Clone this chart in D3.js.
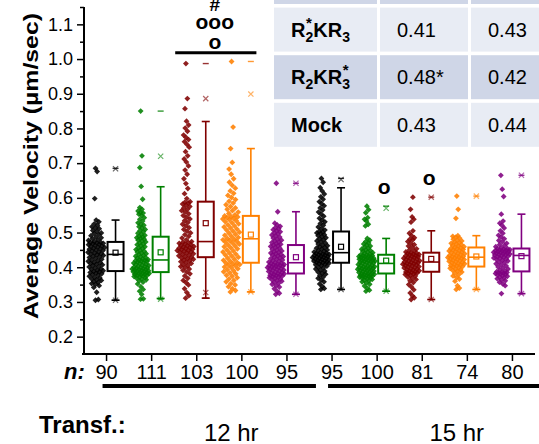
<!DOCTYPE html>
<html>
<head>
<meta charset="utf-8">
<script src="https://cdn.jsdelivr.net/npm/d3@7"></script>
<style>
  html, body { margin: 0; padding: 0; background: #fff; }
  svg { display: block; font-family: "Liberation Sans", Arial, sans-serif; }
</style>
</head>
<body>
<svg id="chart" width="539" height="444"></svg>
<script>
// ---- categories: five constructs per transfection time ----
const categories = ["12h-1", "12h-2", "12h-3", "12h-4", "12h-5", "15h-1", "15h-2", "15h-3", "15h-4", "15h-5"];
const nCounts = [90, 111, 103, 100, 95, 95, 100, 81, 74, 80];
const seriesColors = ["#000000", "#008000", "#800000", "#ff8000", "#800080"];
const timeLabels = ["12 hr", "15 hr"];
const timeSpans = [[0, 4], [5, 9]];
const yTicks = [0.2, 0.3, 0.4, 0.5, 0.6, 0.7, 0.8, 0.9, 1.0, 1.1];
const yMinorTicks = [0.25, 0.35, 0.45, 0.55, 0.65, 0.75, 0.85, 0.95, 1.05, 1.15];

// ---- individual velocities (µm/sec), sorted per group ----
const vel12_1 = [0.305,0.307,0.328,0.342,0.347,0.351,0.353,0.356,0.359,0.362,0.364,0.366,0.369,0.371,0.374,0.377,0.379,0.381,0.383,0.385,0.387,0.388,
  0.390,0.391,0.394,0.395,0.398,0.401,0.402,0.405,0.407,0.409,0.411,0.413,0.414,0.417,0.419,0.421,0.423,0.426,0.428,0.430,0.432,0.434,0.436,
  0.438,0.439,0.441,0.443,0.444,0.447,0.448,0.450,0.452,0.453,0.455,0.457,0.458,0.460,0.461,0.463,0.465,0.466,0.468,0.469,0.470,0.471,0.472,
  0.474,0.477,0.479,0.482,0.485,0.487,0.491,0.494,0.497,0.499,0.503,0.506,0.511,0.513,0.517,0.521,0.525,0.531,0.536,0.598,0.676,0.685];
const vel12_2 = [0.308,0.309,0.322,0.331,0.336,0.344,0.352,0.357,0.361,0.364,0.366,0.368,0.370,0.372,0.373,0.375,0.376,0.377,0.378,0.379,0.380,0.381,0.382,0.383,0.384,0.385,0.386,
  0.387,0.388,0.389,0.390,0.391,0.392,0.393,0.394,0.395,0.396,0.397,0.398,0.399,0.400,0.402,0.403,0.405,0.406,0.408,0.409,0.411,0.412,0.414,0.415,0.417,0.418,0.419,0.420,
  0.421,
  0.422,0.424,0.426,0.428,0.430,0.432,0.434,0.437,0.439,0.441,0.444,0.446,0.449,0.451,0.454,0.456,0.459,0.462,0.465,0.467,0.470,0.473,0.476,0.478,0.481,0.483,0.485,0.487,
  0.489,0.492,0.495,0.498,0.502,0.506,0.509,0.513,0.517,0.521,0.524,0.528,0.533,0.538,0.543,0.549,0.553,0.556,0.558,0.562,0.567,0.572,0.596,0.633,0.687,0.721,0.850];
const vel12_3 = [0.311,0.318,0.327,0.338,0.349,0.356,0.362,0.368,0.375,0.381,0.386,0.391,0.395,0.399,0.402,0.405,0.408,0.411,0.414,0.416,0.419,0.421,0.423,0.425,0.427,
  0.429,
  0.431,0.433,0.435,0.437,0.439,0.441,0.443,0.444,0.446,0.448,0.449,0.451,0.452,0.454,0.455,0.457,0.458,0.460,0.462,0.463,0.465,0.467,0.469,0.471,0.472,
  0.474,
  0.479,0.484,0.489,0.494,0.499,0.504,0.509,0.514,0.519,0.524,0.529,0.534,0.539,0.544,0.549,0.554,0.559,0.563,0.567,0.571,0.575,0.579,0.582,0.585,0.587,
  0.589,
  0.598,0.612,0.627,0.641,0.655,0.668,0.680,0.692,0.703,0.712,0.721,0.733,0.746,0.754,0.762,0.768,0.774,0.781,0.792,0.801,0.810,0.821,0.857,0.886,0.987];
const vel12_4 = [0.329,0.333,0.338,0.344,0.349,0.353,0.358,0.362,0.366,0.370,0.374,0.377,0.381,0.384,0.387,0.390,0.393,0.396,0.399,0.401,0.404,0.406,0.408,0.410,0.412,
  0.414,0.417,0.420,0.423,0.426,0.429,0.432,0.435,0.438,0.441,0.444,0.447,0.450,0.453,0.456,0.459,0.462,0.464,0.467,0.470,0.472,0.475,0.477,0.479,0.481,
  0.483,0.486,0.489,0.492,0.495,0.498,0.501,0.504,0.507,0.510,0.513,0.516,0.519,0.522,0.525,0.528,0.531,0.534,0.537,0.539,0.541,0.543,0.545,0.546,0.548,
  0.551,0.555,0.559,0.563,0.567,0.571,0.575,0.580,0.585,0.590,0.595,0.601,0.607,0.613,0.620,0.628,0.636,0.645,0.655,0.668,0.683,0.702,0.742,0.804,0.993];
const vel12_5 = [0.322,0.325,0.331,0.338,0.343,0.347,0.351,0.354,0.357,0.360,0.362,0.364,0.366,0.368,0.370,0.372,0.373,0.375,0.376,0.377,0.378,0.379,0.381,
  0.382,
  0.383,0.385,0.386,0.388,0.389,0.391,0.392,0.394,0.395,0.396,0.398,0.399,0.400,0.401,0.403,0.404,0.405,0.406,0.407,0.408,0.409,0.411,0.412,
  0.413,
  0.415,0.417,0.419,0.421,0.423,0.425,0.427,0.429,0.431,0.433,0.435,0.437,0.439,0.441,0.443,0.445,0.447,0.450,0.452,0.455,0.457,0.460,0.462,
  0.464,
  0.466,0.468,0.471,0.473,0.476,0.478,0.481,0.484,0.487,0.490,0.493,0.496,0.499,0.502,0.505,0.508,0.511,0.514,0.518,0.522,0.527,0.560,0.642];
const vel15_1 = [0.336,0.339,0.345,0.352,0.358,0.363,0.368,0.372,0.376,0.380,0.383,0.386,0.389,0.392,0.395,0.398,0.400,0.403,0.405,0.407,0.409,0.410,0.412,
  0.413,
  0.414,0.415,0.417,0.418,0.419,0.420,0.422,0.423,0.424,0.425,0.426,0.428,0.429,0.430,0.431,0.432,0.434,0.435,0.436,0.437,0.438,0.440,0.441,
  0.442,
  0.444,0.446,0.448,0.450,0.452,0.455,0.457,0.459,0.462,0.464,0.467,0.470,0.473,0.476,0.479,0.482,0.485,0.488,0.491,0.494,0.497,0.499,0.501,
  0.503,
  0.507,0.511,0.516,0.521,0.526,0.531,0.536,0.541,0.547,0.553,0.559,0.565,0.571,0.577,0.583,0.589,0.596,0.603,0.611,0.620,0.629,0.645,0.656];
const vel15_2 = [0.331,0.334,0.340,0.346,0.351,0.355,0.358,0.361,0.363,0.365,0.367,0.368,0.370,0.371,0.372,0.373,0.374,0.375,0.376,0.377,0.378,0.379,0.380,0.381,0.381,
  0.383,0.384,0.385,0.386,0.388,0.389,0.390,0.391,0.392,0.393,0.394,0.395,0.396,0.397,0.398,0.399,0.400,0.401,0.402,0.403,0.405,0.406,0.407,0.408,0.410,
  0.412,0.413,0.414,0.415,0.416,0.417,0.418,0.419,0.420,0.421,0.422,0.423,0.424,0.425,0.426,0.427,0.428,0.429,0.430,0.431,0.432,0.433,0.434,0.435,0.436,
  0.438,0.440,0.442,0.444,0.446,0.448,0.450,0.452,0.455,0.458,0.461,0.464,0.467,0.470,0.474,0.478,0.483,0.519,0.524,0.533,0.538,0.543,0.557,0.566,0.576];
const vel15_3 = [0.307,0.312,0.318,0.326,0.335,0.343,0.350,0.356,0.361,0.365,0.369,0.372,0.375,0.377,0.379,0.381,0.382,0.384,0.385,0.386,
  0.387,
  0.389,0.390,0.392,0.393,0.395,0.396,0.398,0.399,0.401,0.402,0.404,0.405,0.407,0.408,0.409,0.410,0.411,0.413,0.414,
  0.415,
  0.416,0.418,0.419,0.421,0.422,0.424,0.425,0.426,0.428,0.429,0.430,0.432,0.433,0.434,0.436,0.437,0.438,0.440,0.441,
  0.442,
  0.444,0.447,0.450,0.453,0.457,0.461,0.465,0.469,0.474,0.479,0.481,0.485,0.491,0.498,0.505,0.530,0.538,0.545,0.567,0.602];
const vel15_4 = [0.336,0.340,0.347,0.360,0.366,0.371,0.375,0.379,0.383,0.386,0.389,0.391,0.393,0.395,0.397,0.399,0.401,
  0.402,
  0.404,0.405,0.407,0.408,0.410,0.411,0.413,0.414,0.416,0.417,0.419,0.420,0.422,0.423,0.425,0.426,0.427,0.428,
  0.429,0.430,
  0.431,0.433,0.434,0.436,0.437,0.439,0.440,0.442,0.444,0.445,0.447,0.448,0.450,0.451,0.453,0.454,0.456,
  0.457,
  0.459,0.461,0.463,0.465,0.467,0.469,0.471,0.473,0.476,0.478,0.481,0.484,0.487,0.489,0.491,0.541,0.567,0.605];
const vel15_5 = [0.324,0.347,0.352,0.357,0.361,0.364,0.367,0.370,0.372,0.374,0.376,0.378,0.380,0.381,0.382,0.383,0.384,0.385,0.386,0.387,
  0.389,0.392,0.395,0.398,0.401,0.404,0.407,0.410,0.413,0.415,0.418,0.420,0.422,0.424,0.426,0.427,0.429,0.430,0.432,0.433,
  0.435,0.436,0.437,0.438,0.439,0.440,0.441,0.442,0.443,0.444,0.445,0.446,0.447,0.448,0.449,0.450,0.451,0.452,0.453,0.454,
  0.456,0.459,0.462,0.465,0.469,0.473,0.477,0.482,0.487,0.492,0.498,0.505,0.513,0.521,0.527,0.533,0.553,0.604,0.625,0.665];
const velocities = [vel12_1, vel12_2, vel12_3, vel12_4, vel12_5, vel15_1, vel15_2, vel15_3, vel15_4, vel15_5];

// ---- box statistics per group ----
const q1 =        [0.389, 0.386, 0.429, 0.413, 0.382, 0.413, 0.382, 0.387, 0.402, 0.388];
const medians =   [0.437, 0.421, 0.474, 0.482, 0.413, 0.442, 0.411, 0.415, 0.429, 0.434];
const q3 =        [0.473, 0.488, 0.589, 0.548, 0.464, 0.503, 0.436, 0.442, 0.457, 0.454];
const means =     [0.442, 0.443, 0.527, 0.494, 0.429, 0.459, 0.419, 0.424, 0.431, 0.432];
const whiskerLo = [0.305, 0.310, 0.311, 0.329, 0.322, 0.336, 0.331, 0.307, 0.336, 0.324];
const whiskerHi = [0.536, 0.632, 0.820, 0.742, 0.560, 0.629, 0.483, 0.505, 0.491, 0.553];
const pct1 =      [0.305, 0.308, 0.327, 0.329, 0.322, 0.336, 0.331, 0.307, 0.336, 0.324];
const pct99 =     [0.684, 0.720, 0.886, 0.899, 0.642, 0.653, 0.570, 0.602, 0.605, 0.665];
const minima =    [0.305, 0.308, 0.311, 0.329, 0.322, 0.336, 0.331, 0.307, 0.336, 0.324];
const maxima =    [0.685, 0.850, 0.987, 0.993, 0.642, 0.656, 0.576, 0.602, 0.605, 0.665];

// ---- significance marks ----
const singleMarks = [6, 7];          // groups carrying a single "o"
const bracketGroups = [2, 3];        // groups joined by the bracket
const bracketMarks = ["#", "ooo", "o"];

// ---- mean-velocity table ----
const tableLabels = [
  [],
  [{ t: "R" }, { sub: "2", sup: "*" }, { t: "KR" }, { sub: "3" }],
  [{ t: "R" }, { sub: "2" }, { t: "KR" }, { sub: "3", sup: "*" }],
  [{ t: "Mock" }]
];
const tableMean12 = ["", "0.41", "0.48*", "0.43"];
const tableMean15 = ["", "0.43", "0.42", "0.44"];

// ================= drawing =================
const svg = d3.select("#chart");
const ink = "#000";

const y = d3.scaleLinear().domain([0.15, 1.15]).range([354, 7]);
const x = d3.scaleBand().domain(categories).range([84, 535]);
const cx = i => x(categories[i]) + x.bandwidth() / 2;
const color = i => seriesColors[i % seriesColors.length];

// table of mean velocities (top right)
const colX = [274, 380, 471], colW = [103, 88, 92];
const rowTop0 = -40, rowStep = 47.6, rowH = 44;
const rowFill = ["#cfd6e7", "#e8ecf4", "#cfd6e7", "#e8ecf4"];
const tbl = svg.append("g");
tableLabels.forEach((parts, r) => {
  const top = rowTop0 + r * rowStep;
  colX.forEach((cxl, c) => {
    tbl.append("rect").attr("x", cxl).attr("y", top).attr("width", colW[c]).attr("height", rowH)
      .attr("fill", rowFill[r]);
  });
  const base = top + rowH / 2 + 7;
  // rich label with sub/superscripts
  let px = colX[0] + 17;
  parts.forEach(p => {
    if (p.t) {
      const t = tbl.append("text").attr("x", px).attr("y", base).attr("font-size", 20)
        .attr("font-weight", "bold").attr("fill", ink).text(p.t);
      px += t.node().getComputedTextLength();
    } else {
      let w = 0;
      if (p.sub) {
        const t = tbl.append("text").attr("x", px).attr("y", base + 5).attr("font-size", 14)
          .attr("font-weight", "bold").attr("fill", ink).text(p.sub);
        w = Math.max(w, t.node().getComputedTextLength());
      }
      if (p.sup) {
        const t = tbl.append("text").attr("x", px + 0.5).attr("y", base - 9).attr("font-size", 15)
          .attr("font-weight", "bold").attr("fill", ink).text(p.sup);
        w = Math.max(w, t.node().getComputedTextLength());
      }
      px += w;
    }
  });
  tbl.append("text").attr("x", colX[1] + 17).attr("y", base).attr("font-size", 20)
    .attr("fill", ink).text(tableMean12[r]);
  tbl.append("text").attr("x", colX[2] + 17).attr("y", base).attr("font-size", 20)
    .attr("fill", ink).text(tableMean15[r]);
});

// y axis
const yAxisG = svg.append("g").attr("transform", `translate(${x.range()[0]},0)`)
  .call(d3.axisLeft(y).tickValues(yTicks).tickSize(7).tickSizeOuter(0).tickPadding(4)
    .tickFormat(d3.format(".1f")));
yAxisG.select(".domain").remove();
yAxisG.selectAll(".tick line").attr("stroke", ink).attr("stroke-width", 1.5);
yAxisG.selectAll(".tick text").attr("font-size", 18).attr("fill", ink)
  .attr("font-family", "'Liberation Sans', Arial, sans-serif");
const yMinorG = svg.append("g").attr("transform", `translate(${x.range()[0]},0)`)
  .call(d3.axisLeft(y).tickValues(yMinorTicks).tickSize(4).tickFormat(""));
yMinorG.select(".domain").remove();
yMinorG.selectAll(".tick line").attr("stroke", ink).attr("stroke-width", 1.5);
svg.append("line").attr("x1", x.range()[0]).attr("x2", x.range()[0])
  .attr("y1", y.range()[1]).attr("y2", y.range()[0] + 1)
  .attr("stroke", ink).attr("stroke-width", 2);

// x axis with n counts as labels
const xAxisG = svg.append("g").attr("transform", `translate(0,${y.range()[0]})`)
  .call(d3.axisBottom(x).tickSize(7).tickSizeOuter(0).tickPadding(4)
    .tickFormat((d, i) => nCounts[i]));
xAxisG.select(".domain").remove();
xAxisG.selectAll(".tick line").attr("stroke", ink).attr("stroke-width", 1.5);
xAxisG.selectAll(".tick text").attr("font-size", 20).attr("fill", ink)
  .attr("font-family", "'Liberation Sans', Arial, sans-serif");
svg.append("line").attr("x1", x.range()[0] - 2).attr("x2", x.range()[1])
  .attr("y1", y.range()[0]).attr("y2", y.range()[0])
  .attr("stroke", ink).attr("stroke-width", 2);

svg.append("text").attr("x", 64).attr("y", 379).attr("font-size", 22)
  .attr("font-weight", "bold").attr("font-style", "italic").attr("fill", ink).text("n:");

// y axis title
svg.append("text").attr("transform", "translate(38,166) rotate(-90)")
  .attr("text-anchor", "middle").attr("font-size", 20).attr("font-weight", "bold")
  .attr("textLength", 306).attr("lengthAdjust", "spacingAndGlyphs")
  .attr("fill", ink).text("Average Velocity (µm/sec)");

// transfection-time brackets
timeSpans.forEach((s, k) => {
  const x1 = cx(s[0]) - 4, x2 = cx(s[1]) + 29;
  svg.append("line").attr("x1", x1).attr("x2", x2).attr("y1", 386).attr("y2", 386)
    .attr("stroke", ink).attr("stroke-width", 4);
  svg.append("text").attr("x", (x1 + x2) / 2 + 22).attr("y", 441).attr("text-anchor", "middle")
    .attr("font-size", 24).attr("fill", ink).text(timeLabels[k]);
});
svg.append("text").attr("x", 39).attr("y", 433).attr("font-size", 24).attr("font-weight", "bold")
  .attr("fill", ink).text("Transf.:");

// ---- jittered points, spread by local density ----
const dotOffset = -10.5, boxOffset = 9, boxW = 16;
const diamond = d3.symbol(d3.symbolSquare, 17)();
function kde(vals, v, bw) {
  let s = 0;
  for (const u of vals) { const z = (v - u) / bw; s += Math.exp(-0.5 * z * z); }
  return s;
}
velocities.forEach((vals, i) => {
  const dens = vals.map(v => kde(vals, v, 0.016));
  const dmax = d3.max(dens);
  const g = svg.append("g");
  g.selectAll("path").data(vals).join("path")
    .attr("d", diamond)
    .attr("transform", (v, j) => {
      const half = 1.5 + 7.5 * dens[j] / dmax;
      const u = ((j * 0.6180339887 + 0.37) % 1) - 0.5;
      return `translate(${cx(i) + dotOffset + 2 * u * half},${y(v)}) rotate(45)`;
    })
    .attr("fill", color(i)).attr("fill-opacity", 0.88);
});

// ---- boxes ----
categories.forEach((c, i) => {
  const g = svg.append("g");
  const bx = cx(i) + boxOffset, col = color(i);
  // whiskers with caps
  g.append("line").attr("x1", bx).attr("x2", bx).attr("y1", y(q3[i])).attr("y2", y(whiskerHi[i]))
    .attr("stroke", col).attr("stroke-width", 1.6);
  g.append("line").attr("x1", bx).attr("x2", bx).attr("y1", y(q1[i])).attr("y2", y(whiskerLo[i]))
    .attr("stroke", col).attr("stroke-width", 1.6);
  [whiskerHi[i], whiskerLo[i]].forEach(v => {
    g.append("line").attr("x1", bx - 4).attr("x2", bx + 4).attr("y1", y(v)).attr("y2", y(v))
      .attr("stroke", col).attr("stroke-width", 1.6);
  });
  g.append("rect").attr("x", bx - boxW / 2).attr("y", y(q3[i])).attr("width", boxW)
    .attr("height", y(q1[i]) - y(q3[i])).attr("fill", "#fff").attr("stroke", col).attr("stroke-width", 2);
  g.append("line").attr("x1", bx - boxW / 2).attr("x2", bx + boxW / 2)
    .attr("y1", y(medians[i])).attr("y2", y(medians[i])).attr("stroke", col).attr("stroke-width", 1.6);
  g.append("rect").attr("x", bx - 2.5).attr("y", y(means[i]) - 2.5).attr("width", 5).attr("height", 5)
    .attr("fill", "none").attr("stroke", col).attr("stroke-width", 1.2);
  // 1% / 99% crosses
  [pct1[i], pct99[i]].forEach(v => {
    const p = d3.path(), r = 2.6, yy = y(v);
    p.moveTo(bx - r, yy - r); p.lineTo(bx + r, yy + r);
    p.moveTo(bx + r, yy - r); p.lineTo(bx - r, yy + r);
    g.append("path").attr("d", p.toString()).attr("stroke", col).attr("stroke-width", 1.2)
      .attr("fill", "none").attr("stroke-opacity", 0.6);
  });
  // min / max dashes
  [minima[i], maxima[i]].forEach(v => {
    g.append("line").attr("x1", bx - 3).attr("x2", bx + 3).attr("y1", y(v)).attr("y2", y(v))
      .attr("stroke", col).attr("stroke-width", 1.4).attr("stroke-opacity", 0.8);
  });
});

// ---- significance annotations ----
singleMarks.forEach(i => {
  svg.append("text").attr("x", cx(i) + 7).attr("y", y(maxima[i]) - 12).attr("text-anchor", "middle")
    .attr("font-size", 21).attr("font-weight", "bold").attr("fill", ink).text("o");
});
{
  const bx1 = x(categories[bracketGroups[0]]) + 1;
  const bx2 = x(categories[bracketGroups[1]]) + x.bandwidth() - 8;
  const by = y(1.018);
  svg.append("line").attr("x1", bx1).attr("x2", bx2).attr("y1", by).attr("y2", by)
    .attr("stroke", ink).attr("stroke-width", 3);
  const mid = (bx1 + bx2) / 2 - 1;
  const baselines = [by - 3.5, by - 23.5, by - 41.5];
  bracketMarks.slice().reverse().forEach((m, k) => {
    svg.append("text").attr("x", mid).attr("y", baselines[k]).attr("text-anchor", "middle")
      .attr("font-size", m === "#" ? 19 : 21).attr("font-weight", "bold").attr("fill", ink).text(m);
  });
}
</script>
</body>
</html>
